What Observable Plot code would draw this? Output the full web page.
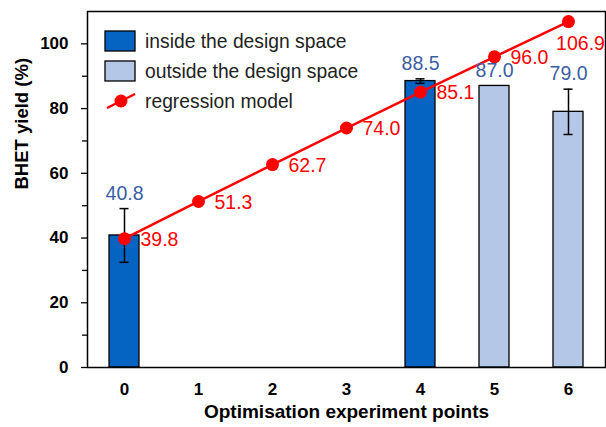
<!DOCTYPE html>
<html>
<head>
<meta charset="utf-8">
<script src="https://cdn.jsdelivr.net/npm/d3@7"></script>
<script src="https://cdn.jsdelivr.net/npm/@observablehq/plot@0.6"></script>
<style>
  html, body { margin: 0; padding: 0; background: #fff; }
  #chart { width: 606px; height: 427px; }
  svg { font-family: "Liberation Sans", Arial, sans-serif; }
</style>
</head>
<body>
<div id="chart"></div>
<script>
// ---- data ----
const points = [0, 1, 2, 3, 4, 5, 6];
const regression = [39.8, 51.3, 62.7, 74.0, 85.1, 96.0, 106.9];
const barPoints = [0, 4, 5, 6];
const barValues = [40.8, 88.5, 87.0, 79.0];
const barErrors = [8.3, 0.7, 0, 7.0];
const groups = ["inside the design space", "outside the design space"];
const barGroups = [groups[0], groups[0], groups[1], groups[1]];
const seriesLabel = "regression model";
const yMajorTicks = [0, 20, 40, 60, 80, 100];
const yMinorTicks = [10, 30, 50, 70, 90];
const xTitle = "Optimisation experiment points";
const yTitle = "BHET yield (%)";

const darkBlue = "#0563C1";
const lightBlue = "#B4C7E7";
const labelBlue = "#3B5DA5";
const red = "#FF0000";

const bars = barPoints.map((p, i) => ({x: p, y: barValues[i], err: barErrors[i], group: barGroups[i]}));
const reg = points.map((p, i) => ({x: p, y: regression[i], last: i === points.length - 1}));

const font = "Liberation Sans, Arial, sans-serif";

const chart = Plot.plot({
  width: 606,
  height: 427,
  marginLeft: 87,
  marginRight: 1,
  marginTop: 11,
  marginBottom: 60,
  style: {fontFamily: font, background: "#fff"},
  x: {type: "band", domain: points, paddingInner: 0.6, paddingOuter: 0.3},
  y: {domain: [0, 110]},
  color: {domain: groups, range: [darkBlue, lightBlue]},
  marks: [
    Plot.rectY(bars, {x: "x", y: "y", fill: "group", stroke: "black", strokeWidth: 1.3}),
    Plot.ruleX(bars.filter(d => d.err > 0), {x: "x", y1: d => d.y - d.err, y2: d => d.y + d.err, stroke: "black", strokeWidth: 1.5}),
    Plot.tickY(bars.filter(d => d.err > 0), {x: "x", y: d => d.y + d.err, stroke: "black", strokeWidth: 1.5, insetLeft: 10.5, insetRight: 10.5}),
    Plot.tickY(bars.filter(d => d.err > 0), {x: "x", y: d => d.y - d.err, stroke: "black", strokeWidth: 1.5, insetLeft: 10.5, insetRight: 10.5}),
    Plot.line(reg, {x: "x", y: "y", stroke: red, strokeWidth: 2.5}),
    Plot.dot(reg, {x: "x", y: "y", r: 6.5, fill: red}),
    Plot.text(bars, {x: "x", y: d => d.y + d.err, text: d => d.y.toFixed(1), dy: -15, fill: labelBlue, fontSize: 19.5}),
    Plot.text(reg.filter(d => !d.last), {x: "x", y: "y", text: d => d.y.toFixed(1), textAnchor: "start", dx: 16, dy: 1, fill: red, fontSize: 19.5}),
    Plot.text(reg.filter(d => d.last), {x: "x", y: "y", text: d => d.y.toFixed(1), dx: 12, dy: 22, fill: red, fontSize: 19.5}),
    Plot.axisY({ticks: yMajorTicks, tickSize: 6, tickPadding: 13, fontSize: 17, fontWeight: "bold", label: null, stroke: "black", strokeWidth: 1.3}),
    Plot.axisY({ticks: yMinorTicks, tickSize: 5, tickFormat: () => "", label: null, stroke: "black", strokeWidth: 1.3}),
    Plot.axisX({tickSize: 0, tickPadding: 15, fontSize: 17, fontWeight: "bold", label: null}),
    Plot.frame({stroke: "black", strokeWidth: 1.5}),
    Plot.text([yTitle], {frameAnchor: "left", rotate: -90, dx: -65, fontSize: 18.5, fontWeight: "bold", fill: "black"}),
    Plot.text([xTitle], {frameAnchor: "bottom", dy: 50, fontSize: 19, fontWeight: "bold", fill: "black"})
  ]
});

document.getElementById("chart").appendChild(chart);

// ---- legend (inside the plot area, top-left) ----
const svg = d3.select(chart);
const lg = svg.append("g").attr("font-family", font).attr("font-size", 19.3).attr("text-anchor", "start");
const items = [
  {label: groups[0], type: "rect", color: darkBlue},
  {label: groups[1], type: "rect", color: lightBlue},
  {label: seriesLabel, type: "line", color: red}
];
items.forEach((it, i) => {
  const cy = 41 + i * 30;
  if (it.type === "rect") {
    lg.append("rect").attr("x", 105).attr("y", cy - 10).attr("width", 30).attr("height", 20)
      .attr("fill", it.color).attr("stroke", "black").attr("stroke-width", 1.3);
  } else {
    lg.append("line").attr("x1", 107).attr("y1", cy + 7).attr("x2", 135).attr("y2", cy - 7)
      .attr("stroke", it.color).attr("stroke-width", 2.5);
    lg.append("circle").attr("cx", 121).attr("cy", cy).attr("r", 6.5).attr("fill", it.color);
  }
  lg.append("text").attr("x", 145).attr("y", cy).attr("dy", "0.35em").attr("text-anchor", "start")
    .attr("fill", "#222").text(it.label);
});
</script>
</body>
</html>
